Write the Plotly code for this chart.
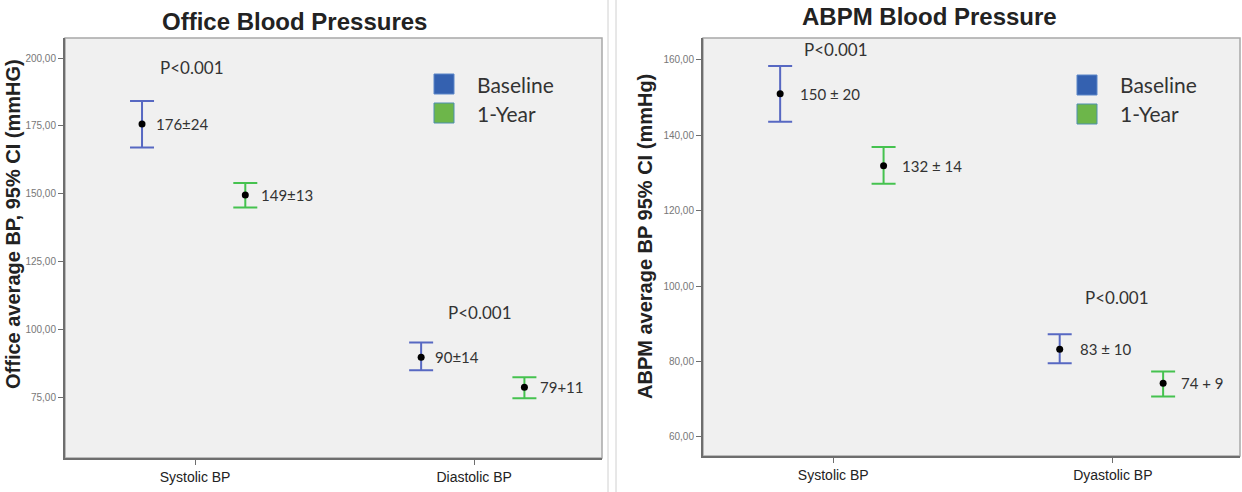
import plotly.graph_objects as go

W, H = 1242, 492

# ---------------- data ----------------
categories_office = ["Systolic BP", "Diastolic BP"]
categories_abpm = ["Systolic BP", "Dyastolic BP"]
series_names = ["Baseline", "1-Year"]

office_baseline_mean = [175.7, 89.7]
office_baseline_lo = [167.0, 84.9]
office_baseline_hi = [184.2, 95.2]
office_year_mean = [149.5, 78.7]
office_year_lo = [144.9, 74.6]
office_year_hi = [154.0, 82.4]
office_baseline_labels = ["176±24", "90±14"]
office_year_labels = ["149±13", "79+11"]

abpm_baseline_mean = [151.0, 83.2]
abpm_baseline_lo = [143.6, 79.5]
abpm_baseline_hi = [158.4, 87.2]
abpm_year_mean = [131.9, 74.2]
abpm_year_lo = [127.1, 70.7]
abpm_year_hi = [136.9, 77.3]
abpm_baseline_labels = ["150 ± 20", "83 ± 10"]
abpm_year_labels = ["132 ± 14", "74 + 9"]

office_ticks = [75, 100, 125, 150, 175, 200]
abpm_ticks = [60, 80, 100, 120, 140, 160]
p_label = "P<0.001"

# ---------------- styling ----------------
BLUE = "#5768c2"
GREEN = "#45c24f"
LEG_BLUE = "#3461b0"
LEG_GREEN = "#6db64a"
TXT = "#333333"
LABEL_FONT = "Lato, Open Sans, sans-serif"
ARIAL = "Liberation Sans, Arial, sans-serif"
OFF_B, OFF_Y = -0.19, 0.18


def px_x(p):
    return p / W


def px_y(p):
    return 1 - p / H


fig = go.Figure()


def add_series(xref, yref, means, lo, hi, offset, color, labels, xshift):
    xs = [i + offset for i in range(len(means))]
    fig.add_trace(go.Scatter(
        x=xs, y=means, mode="markers", xaxis=xref, yaxis=yref,
        marker=dict(color="black", size=7),
        error_y=dict(type="data", symmetric=False,
                     array=[h - m for h, m in zip(hi, means)],
                     arrayminus=[m - l for m, l in zip(means, lo)],
                     color=color, thickness=2, width=12),
        showlegend=False, hoverinfo="y"))
    for x, y, t in zip(xs, means, labels):
        fig.add_annotation(x=x, y=y, xref=xref, yref=yref, text=t,
                           showarrow=False, xanchor="left", yanchor="middle",
                           xshift=xshift, font=dict(family=LABEL_FONT, size=15, color=TXT))


add_series("x", "y", office_baseline_mean, office_baseline_lo, office_baseline_hi, OFF_B, BLUE, office_baseline_labels, 12)
add_series("x", "y", office_year_mean, office_year_lo, office_year_hi, OFF_Y, GREEN, office_year_labels, 14)
add_series("x2", "y2", abpm_baseline_mean, abpm_baseline_lo, abpm_baseline_hi, OFF_B, BLUE, abpm_baseline_labels, 18)
add_series("x2", "y2", abpm_year_mean, abpm_year_lo, abpm_year_hi, OFF_Y, GREEN, abpm_year_labels, 16)

tickfont = dict(family=ARIAL, size=10, color="#777777")
catfont = dict(family="Liberation Sans Narrow, Arial Narrow, Liberation Sans, sans-serif", size=14, color="#222222")
axline = dict(showline=True, linecolor="#6e6e6e", linewidth=2, ticks="outside",
              ticklen=5, tickcolor="#6e6e6e", tickwidth=1, showgrid=False, zeroline=False)

fig.update_layout(
    width=W, height=H, margin=dict(l=0, r=0, t=0, b=0),
    paper_bgcolor="white", plot_bgcolor="#f0f0f0", showlegend=False,
    xaxis=dict(domain=[px_x(65), px_x(602)], range=[-0.466, 1.458],
               tickvals=[0, 1], ticktext=categories_office, tickfont=catfont, anchor="y", **axline),
    yaxis=dict(domain=[px_y(458), px_y(38)], range=[52.6, 207.4],
               tickvals=office_ticks, ticktext=[f"{v},00" for v in office_ticks],
               tickfont=tickfont, anchor="x", **axline),
    xaxis2=dict(domain=[px_x(703), px_x(1240)], range=[-0.466, 1.455],
                tickvals=[0, 1], ticktext=categories_abpm, tickfont=catfont, anchor="y2", **axline),
    yaxis2=dict(domain=[px_y(456), px_y(38)], range=[54.9, 165.8],
                tickvals=abpm_ticks, ticktext=[f"{v},00" for v in abpm_ticks],
                tickfont=tickfont, anchor="x2", **axline),
)

# light box borders (top / right)
for xr, yr in (("x", "y"), ("x2", "y2")):
    fig.add_shape(type="rect", xref=f"{xr} domain", yref=f"{yr} domain",
                  x0=0, x1=1, y0=0, y1=1, line=dict(color="#a8a8a8", width=1.5), layer="below")

# separator lines
for sx in (608, 616):
    fig.add_shape(type="line", xref="paper", yref="paper", x0=px_x(sx), x1=px_x(sx),
                  y0=0, y1=1, line=dict(color="#d0d0d0", width=1))


def paper_text(x, y, text, font, **kw):
    fig.add_annotation(x=px_x(x), y=px_y(y), xref="paper", yref="paper", text=text,
                       showarrow=False, xanchor=kw.pop("xanchor", "center"),
                       yanchor=kw.pop("yanchor", "middle"), font=font, **kw)


# titles
paper_text(294, 21, "<b>Office Blood Pressures</b>", dict(family=ARIAL, size=24, color="#222"))
paper_text(929, 17, "<b>ABPM Blood Pressure</b>", dict(family=ARIAL, size=24, color="#222"))

# y-axis titles
paper_text(13, 224, "<b>Office average BP, 95% CI (mmHG)</b>", dict(family=ARIAL, size=20, color="#222"), textangle=-90)
paper_text(645, 237, "<b>ABPM average BP 95% CI (mmHg)</b>", dict(family=ARIAL, size=20, color="#222"), textangle=-90)

# p-values
for (px, py) in ((192, 68), (480, 312), (836, 50), (1117, 297)):
    paper_text(px, py, p_label, dict(family=LABEL_FONT, size=17, color=TXT))

# legends
for (sqx, txx, y1, y2) in ((434, 475, 84, 113), (1077, 1118, 85, 114)):
    for name, yc, fill, edge in ((series_names[0], y1, LEG_BLUE, "#5a86c8"),
                                 (series_names[1], y2, LEG_GREEN, "#4f8fb0")):
        fig.add_shape(type="rect", xref="paper", yref="paper",
                      x0=px_x(sqx), x1=px_x(sqx + 20), y0=px_y(yc - 10), y1=px_y(yc + 10),
                      fillcolor=fill, line=dict(color=edge, width=1))
        paper_text(txx, yc, name, dict(family=LABEL_FONT, size=21, color=TXT), xanchor="left")

fig.write_html("out.html")
